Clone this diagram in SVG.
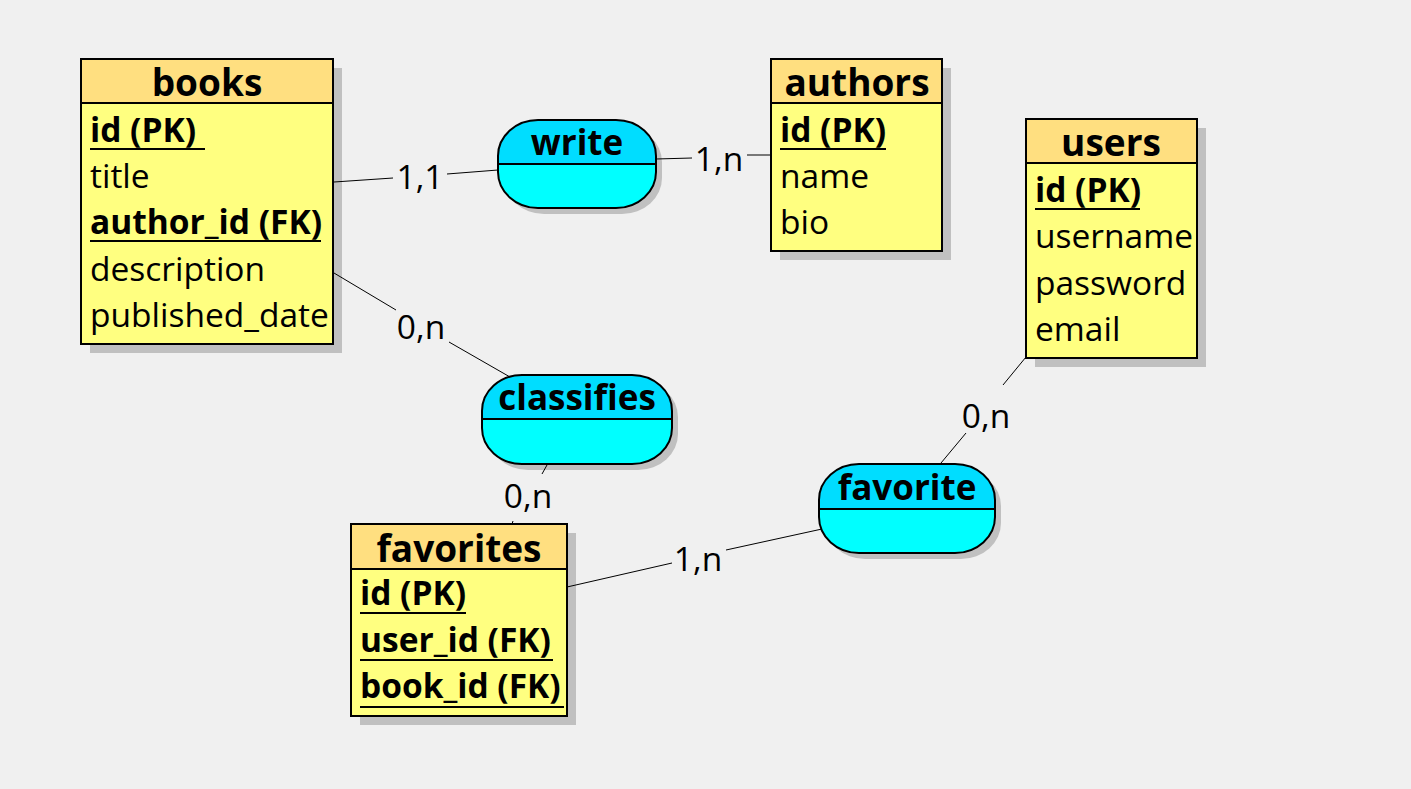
<svg xmlns="http://www.w3.org/2000/svg" width="1411" height="789" viewBox="0 0 1411 789">
<style>
text{font-family:"Open Sans","Noto Sans","Liberation Sans",sans-serif;font-size:33.5px;fill:#000}
.b{font-weight:bold}
.c{text-anchor:middle}
.h{font-size:37px}
.r{font-size:35px}
.sh{fill:#C0C0C0}
.hd{fill:#FFDF80;stroke:#000;stroke-width:2}
.bd{fill:#FFFF80;stroke:#000;stroke-width:2}
.ul{stroke:#000;stroke-width:2}
.rt{fill:#00DDFF}
.rb{fill:#00FFFF}
.ro{fill:none;stroke:#000;stroke-width:2}
.cn{stroke:#000;stroke-width:1;fill:none}
</style>
<defs>
<clipPath id="cw"><rect x="498" y="120" width="158" height="88" rx="40" ry="36"/></clipPath>
<clipPath id="cc"><rect x="482" y="375" width="190" height="89" rx="40" ry="36"/></clipPath>
<clipPath id="cf"><rect x="819" y="464" width="176" height="89" rx="40" ry="36"/></clipPath>
</defs>
<rect width="1411" height="789" fill="#F0F0F0"/>

<g id="books">
<rect class="sh" x="90" y="68" width="252" height="285"/>
<rect class="bd" x="81" y="59" width="252" height="285"/>
<rect class="hd" x="81" y="59" width="252" height="44"/>
<text class="b c h" x="207" y="96">books</text>
<text class="b" x="90" y="142">id (PK)</text>
<line class="ul" x1="90" y1="149" x2="205" y2="149"/>
<text x="90" y="188">title</text>
<text class="b" x="90" y="234">author_id (FK)</text>
<line class="ul" x1="90" y1="241" x2="321" y2="241"/>
<text x="90" y="281">description</text>
<text x="90" y="327">published_date</text>
</g>

<g id="authors">
<rect class="sh" x="780" y="68" width="171" height="192"/>
<rect class="bd" x="771" y="59" width="171" height="192"/>
<rect class="hd" x="771" y="59" width="171" height="44"/>
<text class="b c h" x="857" y="96">authors</text>
<text class="b" x="780" y="142">id (PK)</text>
<line class="ul" x1="780" y1="149" x2="886" y2="149"/>
<text x="780" y="188">name</text>
<text x="780" y="234">bio</text>
</g>

<g id="users">
<rect class="sh" x="1035" y="128" width="171" height="239"/>
<rect class="bd" x="1026" y="119" width="171" height="239"/>
<rect class="hd" x="1026" y="119" width="171" height="44"/>
<text class="b c h" x="1111" y="156">users</text>
<text class="b" x="1035" y="202">id (PK)</text>
<line class="ul" x1="1035" y1="209" x2="1140" y2="209"/>
<text x="1035" y="248">username</text>
<text x="1035" y="295">password</text>
<text x="1035" y="341">email</text>
</g>

<g id="favorites">
<rect class="sh" x="360" y="533" width="216" height="192"/>
<rect class="bd" x="351" y="524" width="216" height="192"/>
<rect class="hd" x="351" y="524" width="216" height="45"/>
<text class="b c h" x="459" y="562">favorites</text>
<text class="b" x="360" y="605">id (PK)</text>
<line class="ul" x1="360" y1="613" x2="466" y2="613"/>
<text class="b" x="360" y="652">user_id (FK)</text>
<line class="ul" x1="360" y1="660" x2="553" y2="660"/>
<text class="b" x="360" y="698">book_id (FK)</text>
<line class="ul" x1="360" y1="707" x2="564" y2="707"/>
</g>

<g id="write">
<rect class="sh" x="504" y="126" width="158" height="88" rx="40" ry="36"/>
<g clip-path="url(#cw)">
<rect class="rt" x="498" y="120" width="158" height="44"/>
<rect class="rb" x="498" y="164" width="158" height="44"/>
</g>
<rect class="ro" x="498" y="120" width="158" height="88" rx="40" ry="36"/>
<line class="ul" x1="498" y1="164" x2="656" y2="164"/>
<text class="b c r" x="577" y="155">write</text>
</g>

<g id="classifies">
<rect class="sh" x="488" y="381" width="190" height="89" rx="40" ry="36"/>
<g clip-path="url(#cc)">
<rect class="rt" x="482" y="375" width="190" height="44"/>
<rect class="rb" x="482" y="419" width="190" height="45"/>
</g>
<rect class="ro" x="482" y="375" width="190" height="89" rx="40" ry="36"/>
<line class="ul" x1="482" y1="419" x2="672" y2="419"/>
<text class="b c r" x="577" y="410">classifies</text>
</g>

<g id="favorite">
<rect class="sh" x="825" y="470" width="176" height="89" rx="40" ry="36"/>
<g clip-path="url(#cf)">
<rect class="rt" x="819" y="464" width="176" height="45"/>
<rect class="rb" x="819" y="509" width="176" height="44"/>
</g>
<rect class="ro" x="819" y="464" width="176" height="89" rx="40" ry="36"/>
<line class="ul" x1="819" y1="509" x2="995" y2="509"/>
<text class="b c r" x="907" y="500">favorite</text>
</g>

<g id="connectors">
<polyline class="cn" points="334,182 393,178"/>
<polyline class="cn" points="447,174 498,170"/>
<text class="c" x="420" y="189">1,1</text>
<polyline class="cn" points="656,159 692,158"/>
<polyline class="cn" points="747,155 771,155"/>
<text class="c" x="719" y="171">1,n</text>
<polyline class="cn" points="334,273 396,310"/>
<polyline class="cn" points="449,342 510,377"/>
<text class="c" x="421" y="339">0,n</text>
<polyline class="cn" points="547,465 542,474"/>
<polyline class="cn" points="513,521 512,524"/>
<text class="c" x="528" y="508">0,n</text>
<polyline class="cn" points="567,587 672,563"/>
<polyline class="cn" points="726,550 822,529"/>
<text class="c" x="698" y="571">1,n</text>
<polyline class="cn" points="941,463 966,433"/>
<polyline class="cn" points="1003,385 1026,357"/>
<text class="c" x="986" y="428">0,n</text>
</g>
</svg>
